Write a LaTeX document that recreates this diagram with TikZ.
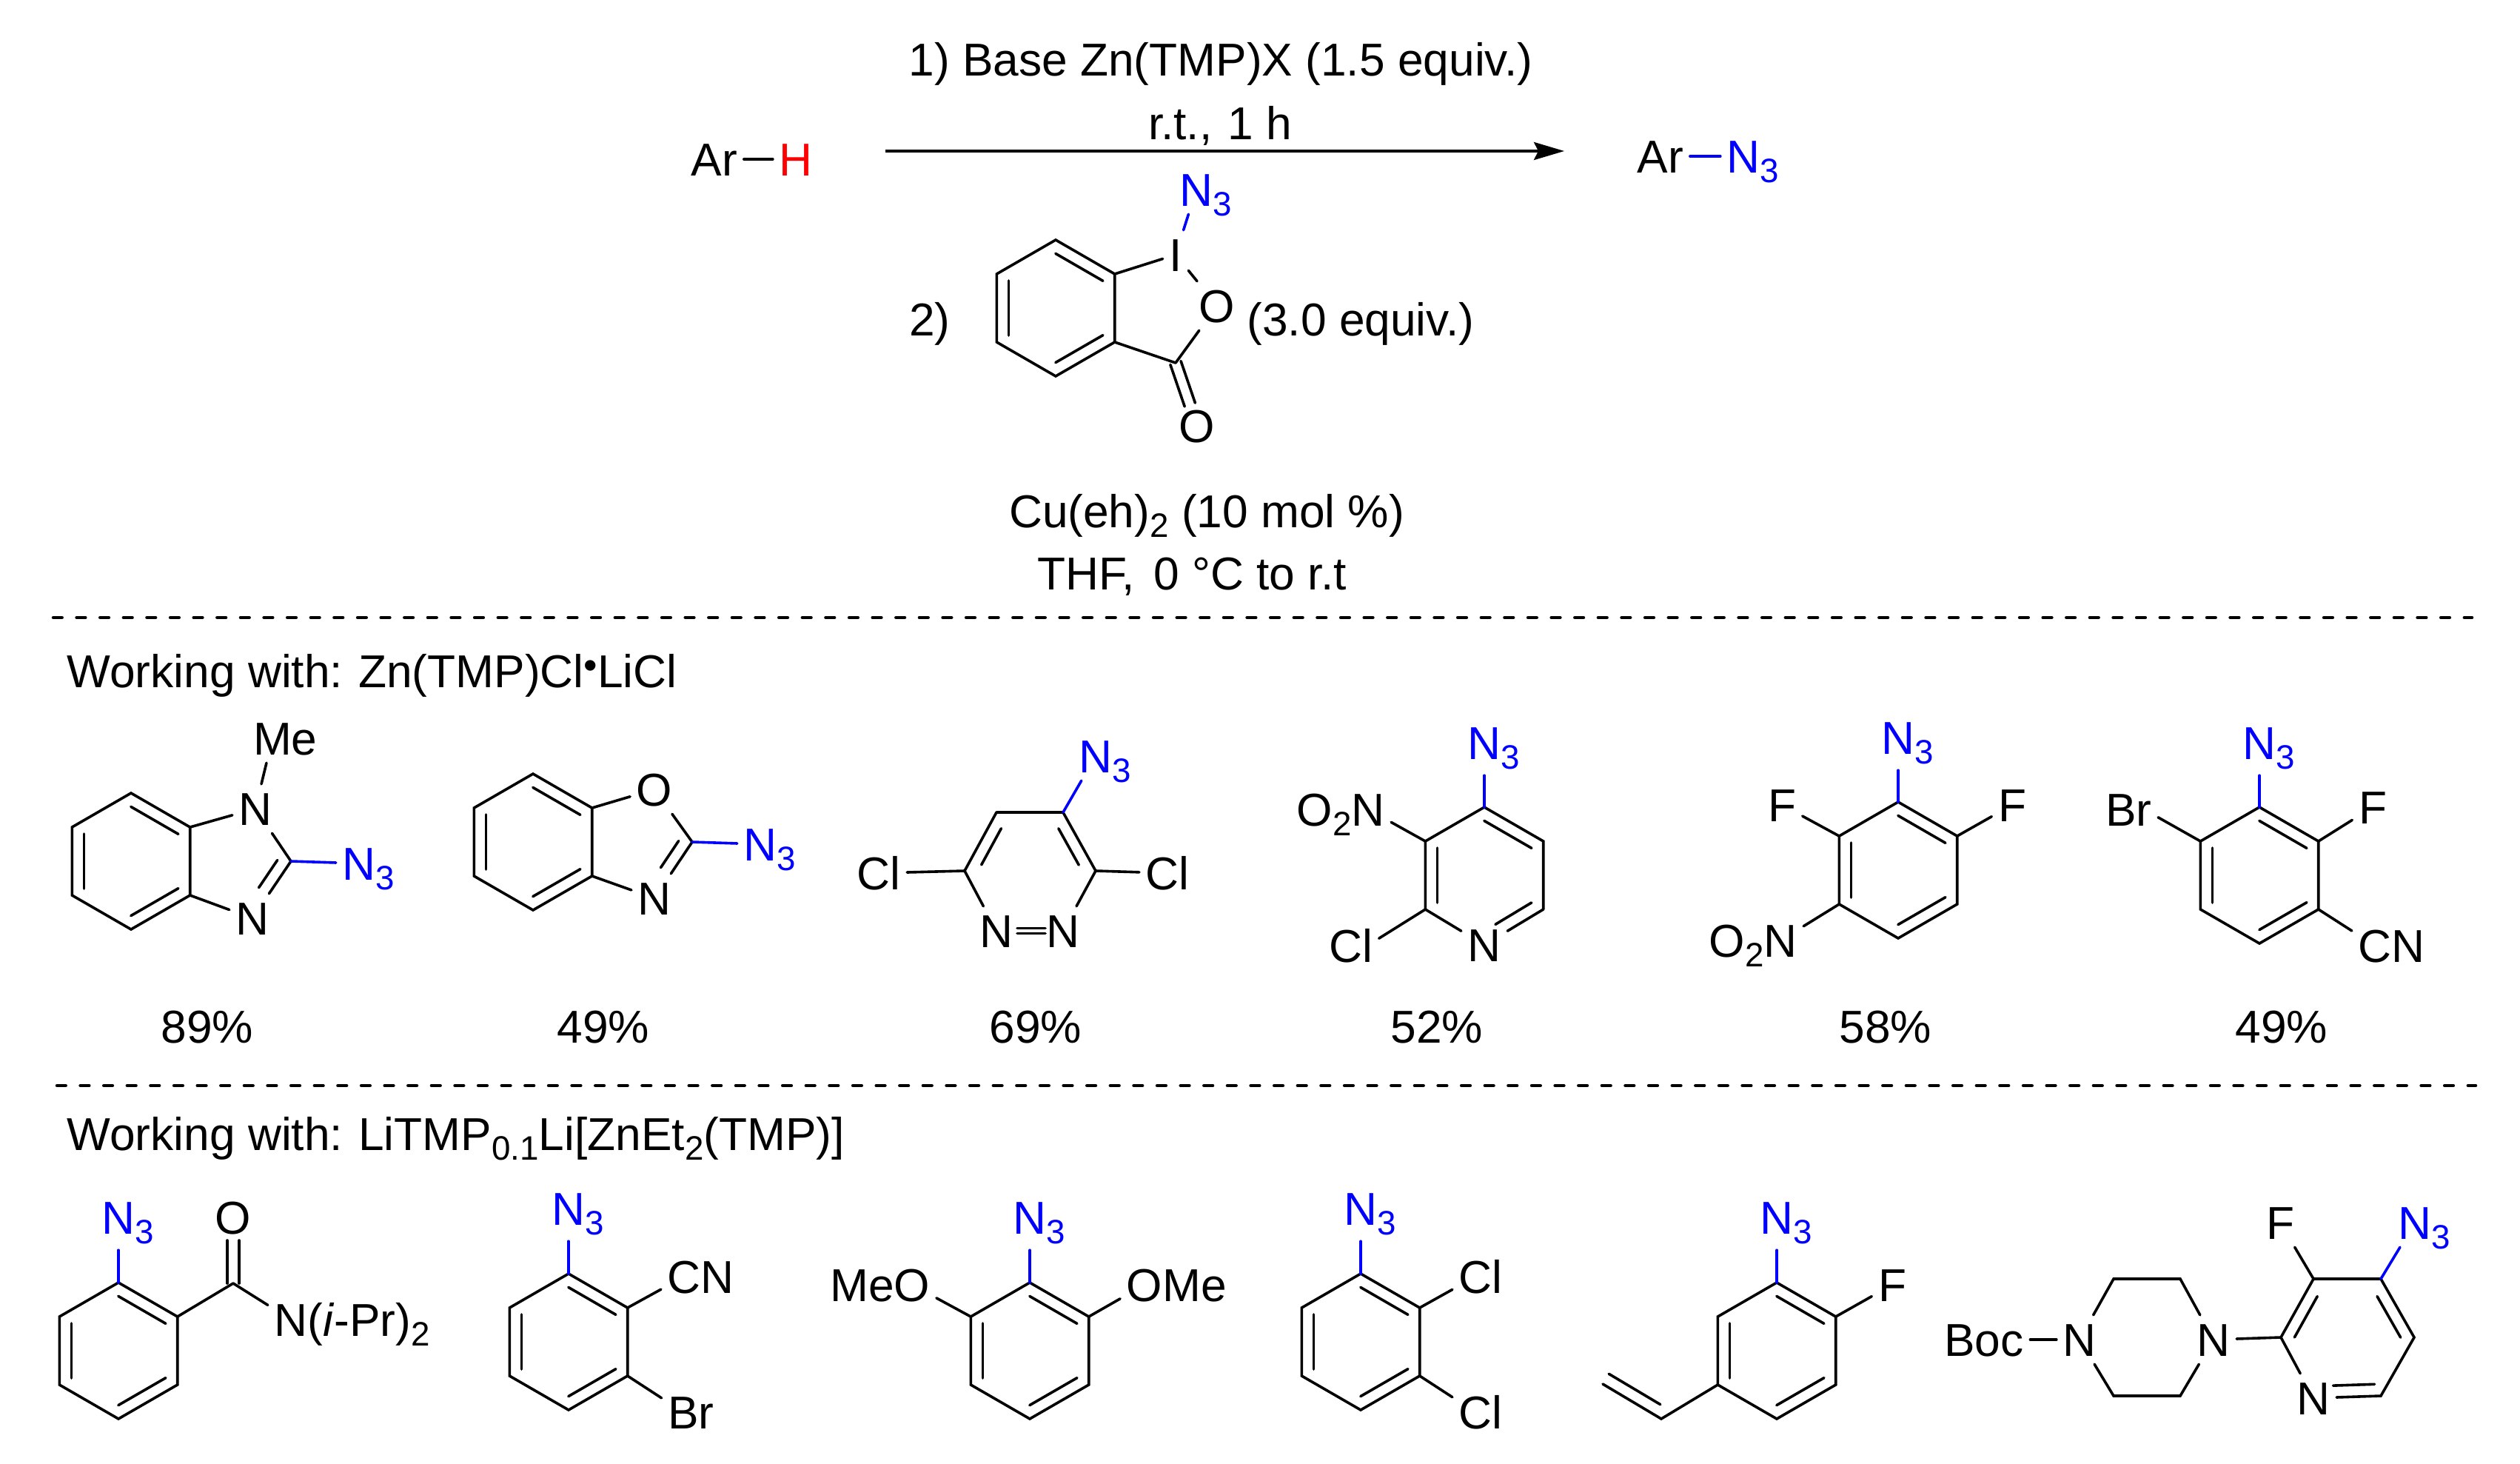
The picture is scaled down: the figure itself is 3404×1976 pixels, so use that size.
\documentclass[tikz,border=0pt]{standalone}
\usepackage{fontspec}
\setmainfont{Liberation Sans}
\usetikzlibrary{calc,arrows.meta}
\definecolor{azblue}{RGB}{0,0,255}
\definecolor{hred}{RGB}{255,0,0}
\tikzset{
  every node/.style={font=\fontsize{17.7}{22}\selectfont},
  bond/.style={line width=.036cm,line cap=round,line join=miter},
  azbond/.style={bond,draw=azblue},
  atom/.style={inner xsep=.08cm,inner ysep=.1cm,text height=.45cm,text depth=0pt},
  azatom/.style={atom,text=azblue},
  azfar/.style={azatom,inner ysep=.21cm},
  lbl/.style={anchor=base,inner sep=0pt},
  leftlbl/.style={anchor=base west,inner sep=0pt},
  sepline/.style={line width=.045cm,line cap=round,dash pattern=on .117cm off .199cm}
}
\frenchspacing
\newcommand{\chemsub}[1]{\raisebox{-.13cm}{\fontsize{13}{15}\selectfont #1}}
\newcommand{\azide}{N\rlap{\chemsub{3}}}
\newcommand{\nitro}{\llap{O\chemsub{2}}N}
% inner line of a double bond, on the right of #2 -> #3
\newcommand{\sidebond}[5][.16cm]{\draw[bond,shorten <=#4,shorten >=#5] ($(#2)!#1!-90:(#3)$) -- ($(#3)!#1!90:(#2)$);}
\newcommand{\hexpts}[3]{
  \coordinate (#1a) at (#2,#3-92);
  \coordinate (#1b) at (#2+79.7,#3-46);
  \coordinate (#1c) at (#2+79.7,#3+46);
  \coordinate (#1d) at (#2,#3+92);
  \coordinate (#1e) at (#2-79.7,#3+46);
  \coordinate (#1f) at (#2-79.7,#3-46);
}
\newcommand{\hexring}[3]{
  \hexpts{#1}{#2}{#3}
  \draw[bond] (#1a) -- (#1b) -- (#1c) -- (#1d) -- (#1e) -- (#1f) -- cycle;
  \sidebond{#1a}{#1b}{.09cm}{.09cm}
  \sidebond{#1c}{#1d}{.09cm}{.09cm}
  \sidebond{#1e}{#1f}{.09cm}{.09cm}
}
\begin{document}
\begin{tikzpicture}[x=.01cm,y=-.01cm]
  \useasboundingbox (0,0) rectangle (3404,1976);

  % reaction
  \node[atom] (arh) at (965,215) {Ar};
  \node[atom,text=hred] (hatom) at (1075,215) {H};
  \draw[bond] (arh) -- (hatom);
  \coordinate (arrowstart) at (1196,204);
  \coordinate (arrowend) at (2113,204);
  \draw[bond,line cap=butt,-{Stealth[length=.41cm,width=.24cm,inset=.06cm]}] (arrowstart) -- (arrowend);
  \node[lbl] (step1) at (1649,103) {1) Base Zn(TMP)X (1.5 equiv.)};
  \node[lbl] (rtime) at (1648,189) {r.t.,\hspace{.21cm}1 h};
  \node[atom] (arn) at (2243,211) {Ar};
  \node[azatom] (arnaz) at (2355,211) {\azide};
  \draw[azbond] (arn) -- (arnaz);

  % reagent
  \node[lbl] (step2) at (1256,453) {2)};
  \hexring{rg}{1426}{416}
  \node[atom] (rgi) at (1588,344) {I};
  \node[azatom] (rgaz) at (1616,256) {\azide};
  \node[atom] (rgo) at (1644,413) {O};
  \coordinate (rgcb) at (1588,490);
  \node[atom] (rgco) at (1617,575) {O};
  \draw[bond] (rgb) -- (rgi);
  \draw[azbond] (rgi) -- (rgaz);
  \draw[bond] (rgi) -- (rgo);
  \draw[bond] (rgo) -- (rgcb);
  \draw[bond] (rgc) -- (rgcb);
  \sidebond[.075cm]{rgcb}{rgco}{0cm}{.3cm}
  \sidebond[-.075cm]{rgcb}{rgco}{0cm}{.3cm}
  \node[lbl] (rgeq) at (1838,453) {(3.0 equiv.)};
  \node[lbl] (cucat) at (1630,712) {Cu(eh)\chemsub{2} (10 mol \%)};
  \node[lbl] (solvent) at (1610,796) {THF,\hspace{.26cm}0 °C to r.t};

  % separators
  \coordinate (sep1a) at (72,834);
  \coordinate (sep1b) at (3339,834);
  \coordinate (sep2a) at (77,1466);
  \coordinate (sep2b) at (3344,1466);
  \draw[sepline] (sep1a) -- (sep1b);
  \draw[sepline] (sep2a) -- (sep2b);
  \node[leftlbl] (work1) at (90,928) {Working with:\hspace{.04cm} Zn(TMP)Cl\raisebox{.12cm}{\fontsize{15}{15}\selectfont •}LiCl};
  \node[leftlbl] (work2) at (90,1553) {Working with:\hspace{.04cm} LiTMP\chemsub{0.1}Li[ZnEt\chemsub{2}(TMP)]};

  % first row
  \hexring{ma}{177}{1163}
  \node[atom] (man1) at (345,1092) {N};
  \node[atom] (man3) at (341,1240) {N};
  \node[atom] (mame) at (368,997) {M\rlap{e}};
  \coordinate (mac2) at (393,1163);
  \node[azatom] (maaz) at (485,1166) {\azide};
  \draw[bond] (mab) -- (man1);
  \draw[bond] (mac) -- (man3);
  \draw[bond] (man1) -- (mame);
  \draw[bond] (man1) -- (mac2);
  \draw[bond] (mac2) -- (man3);
  \sidebond{mac2}{man3}{.09cm}{.39cm}
  \draw[azbond] (mac2) -- (maaz);
  \node[lbl] (yielda) at (280,1408) {89\%};

  \hexring{mb}{720}{1137}
  \node[atom] (mbo) at (884,1066) {O};
  \node[atom] (mbn) at (884,1213) {N};
  \coordinate (mbc2) at (935,1137);
  \node[azatom] (mbaz) at (1027,1140) {\azide};
  \draw[bond] (mbb) -- (mbo);
  \draw[bond] (mbc) -- (mbn);
  \draw[bond] (mbo) -- (mbc2);
  \draw[bond] (mbc2) -- (mbn);
  \sidebond{mbc2}{mbn}{.09cm}{.39cm}
  \draw[azbond] (mbc2) -- (mbaz);
  \node[lbl] (yieldb) at (815,1408) {49\%};

  \coordinate (mcc4) at (1436,1097);
  \coordinate (mcc5) at (1346,1097);
  \coordinate (mcc6) at (1303,1176);
  \coordinate (mcc3) at (1480,1176);
  \node[atom] (mcn2) at (1346,1257) {N};
  \node[atom] (mcn1) at (1436,1257) {N};
  \node[atom] (mccl) at (1187,1179) {Cl};
  \node[atom] (mccr) at (1577,1179) {Cl};
  \node[azatom] (mcaz) at (1480,1021) {\azide};
  \draw[bond] (mcc5) -- (mcc4) -- (mcc3);
  \draw[bond] (mcc5) -- (mcc6);
  \draw[bond] (mcc3) -- (mcn1);
  \draw[bond] (mcc6) -- (mcn2);
  \sidebond{mcc4}{mcc3}{.16cm}{.18cm}
  \sidebond{mcc6}{mcc5}{.18cm}{.16cm}
  \sidebond[.035cm]{mcn2}{mcn1}{.28cm}{.24cm}
  \sidebond[-.035cm]{mcn2}{mcn1}{.28cm}{.24cm}
  \draw[bond] (mcc6) -- (mccl);
  \draw[bond] (mcc3) -- (mccr);
  \draw[azbond] (mcc4) -- (mcaz);
  \node[lbl] (yieldc) at (1399,1408) {69\%};

  \hexpts{md}{2005}{1182}
  \node[atom] (mdn) at (2005,1276) {N};
  \node[azfar] (mdaz) at (2005,1003) {\azide};
  \node[atom] (mdno) at (1848,1093) {\nitro};
  \node[atom] (mdcl) at (1847,1277) {\llap{C}l};
  \draw[bond] (mde) -- (mdf) -- (mda) -- (mdb) -- (mdc);
  \draw[bond] (mdc) -- (mdn);
  \draw[bond] (mde) -- (mdn);
  \sidebond{mda}{mdb}{.09cm}{.09cm}
  \sidebond{mdc}{mdn}{.09cm}{.27cm}
  \sidebond{mde}{mdf}{.09cm}{.09cm}
  \draw[bond] (mdf) -- (mdno);
  \draw[bond] (mde) -- (mdcl);
  \draw[azbond] (mda) -- (mdaz);
  \node[lbl] (yieldd) at (1941,1408) {52\%};

  \hexring{me}{2564}{1175}
  \node[azfar] (meaz) at (2564,996) {\azide};
  \node[atom] (mefl) at (2407,1087) {F};
  \node[atom] (mefr) at (2718,1087) {F};
  \node[atom] (meno) at (2405,1270) {\nitro};
  \draw[bond] (mef) -- (mefl);
  \draw[bond] (meb) -- (mefr);
  \draw[bond] (mee) -- (meno);
  \draw[azbond] (mea) -- (meaz);
  \node[lbl] (yielde) at (2547,1408) {58\%};

  \hexring{mf}{3052}{1182}
  \node[azfar] (mfaz) at (3052,1003) {\azide};
  \node[atom] (mfbr) at (2896,1093) {\llap{B}r};
  \node[atom] (mffl) at (3205,1090) {F};
  \node[atom] (mfcn) at (3208,1277) {C\rlap{N}};
  \draw[bond] (mff) -- (mfbr);
  \draw[bond] (mfb) -- (mffl);
  \draw[bond] (mfc) -- (mfcn);
  \draw[azbond] (mfa) -- (mfaz);
  \node[lbl] (yieldf) at (3082,1408) {49\%};

  % second row
  \hexring{mg}{160}{1824}
  \node[azfar] (mgaz) at (160,1644) {\azide};
  \coordinate (mgcb) at (315,1733);
  \node[atom] (mgo) at (315,1644) {O};
  \node[atom] (mgn) at (393,1782) {N\rlap{(\textit{i}-Pr)\chemsub{2}}};
  \draw[azbond] (mga) -- (mgaz);
  \draw[bond] (mgb) -- (mgcb);
  \draw[bond] (mgcb) -- (mgn);
  \sidebond[.08cm]{mgcb}{mgo}{0cm}{.31cm}
  \sidebond[-.08cm]{mgcb}{mgo}{0cm}{.31cm}

  \hexring{mh}{768}{1812}
  \node[azfar] (mhaz) at (768,1632) {\azide};
  \node[atom] (mhcn) at (924,1724) {C\rlap{N}};
  \node[atom] (mhbr) at (923,1907) {B\rlap{r}};
  \draw[azbond] (mha) -- (mhaz);
  \draw[bond] (mhb) -- (mhcn);
  \draw[bond] (mhc) -- (mhbr);

  \hexring{mi}{1391}{1824}
  \node[azfar] (miaz) at (1391,1644) {\azide};
  \node[atom] (mimeo) at (1232,1735) {\llap{Me}O};
  \node[atom] (miome) at (1546,1735) {O\rlap{Me}};
  \draw[azbond] (mia) -- (miaz);
  \draw[bond] (mif) -- (mimeo);
  \draw[bond] (mib) -- (miome);

  \hexring{mj}{1838}{1812}
  \node[azfar] (mjaz) at (1838,1632) {\azide};
  \node[atom] (mjcla) at (1993,1724) {C\rlap{l}};
  \node[atom] (mjclb) at (1993,1907) {C\rlap{l}};
  \draw[azbond] (mja) -- (mjaz);
  \draw[bond] (mjb) -- (mjcla);
  \draw[bond] (mjc) -- (mjclb);

  \hexring{mk}{2400}{1824}
  \node[azfar] (mkaz) at (2400,1644) {\azide};
  \node[atom] (mkfl) at (2556,1735) {F};
  \coordinate (mkva) at (2244,1916);
  \coordinate (mkvb) at (2165,1869);
  \draw[azbond] (mka) -- (mkaz);
  \draw[bond] (mkb) -- (mkfl);
  \draw[bond] (mke) -- (mkva) -- (mkvb);
  \sidebond{mkva}{mkvb}{.11cm}{0cm}

  \node[atom] (mlboc) at (2680,1809) {Boc};
  \node[atom] (mlna) at (2809,1809) {N};
  \node[atom] (mlnb) at (2990,1809) {N};
  \coordinate (mlp1) at (2855,1727);
  \coordinate (mlp2) at (2945,1727);
  \coordinate (mlp3) at (2945,1885);
  \coordinate (mlp4) at (2855,1885);
  \draw[bond] (mlboc) -- (mlna);
  \draw[bond] (mlna) -- (mlp1) -- (mlp2) -- (mlnb);
  \draw[bond] (mlnb) -- (mlp3) -- (mlp4) -- (mlna);
  \coordinate (mlc2) at (3081,1806);
  \coordinate (mlc3) at (3125,1727);
  \coordinate (mlc4) at (3216,1727);
  \coordinate (mlc5) at (3261,1806);
  \coordinate (mlc6) at (3216,1885);
  \node[atom] (mlnp) at (3125,1888) {N};
  \node[atom] (mlfl) at (3080,1651) {F};
  \node[azatom] (mlaz) at (3262,1651) {\azide};
  \draw[bond] (mlnb) -- (mlc2);
  \draw[bond] (mlnp) -- (mlc2) -- (mlc3) -- (mlc4) -- (mlc5) -- (mlc6) -- (mlnp);
  \sidebond{mlc2}{mlc3}{.09cm}{.18cm}
  \sidebond{mlc4}{mlc5}{.18cm}{.09cm}
  \sidebond{mlc6}{mlnp}{.08cm}{.27cm}
  \draw[bond] (mlc3) -- (mlfl);
  \draw[azbond] (mlc4) -- (mlaz);
\end{tikzpicture}
\end{document}
